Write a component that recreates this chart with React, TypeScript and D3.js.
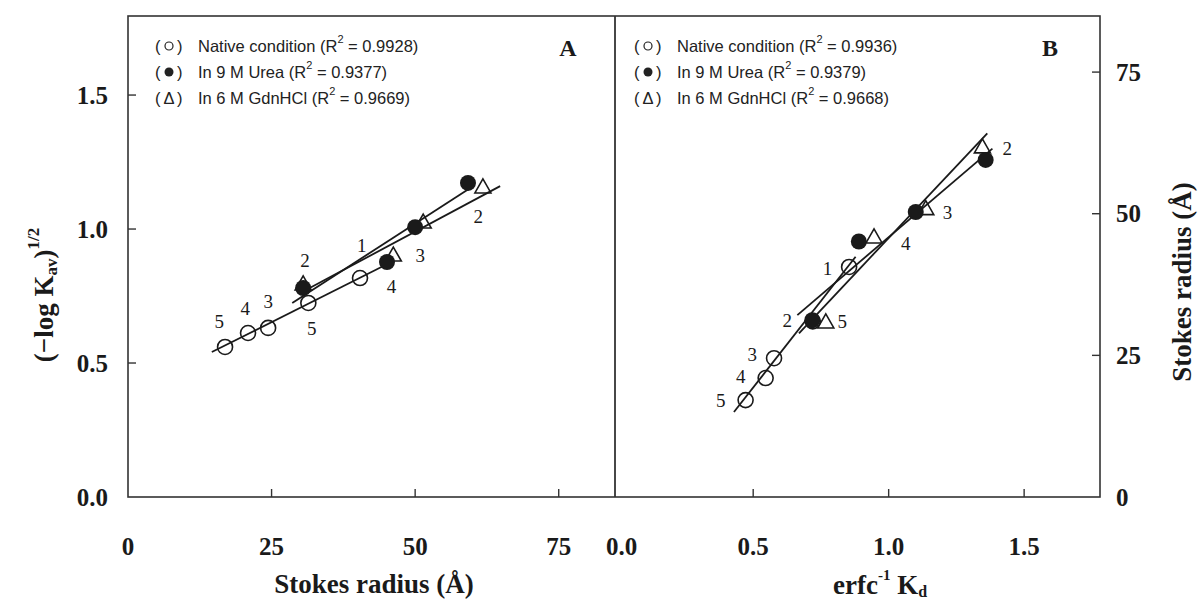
import React from 'react';
import * as d3 from 'd3';

// panel A: (-log Kav)^1/2 vs Stokes radius
const nativeA = [
  { x: 16.9, y: 0.560 }, { x: 20.9, y: 0.612 }, { x: 24.4, y: 0.631 },
  { x: 31.4, y: 0.724 }, { x: 40.4, y: 0.817 },
];
const ureaA = [
  { x: 30.5, y: 0.780 }, { x: 45.1, y: 0.877 }, { x: 50.0, y: 1.007 }, { x: 59.2, y: 1.172 },
];
const gdnA = [
  { x: 30.5, y: 0.795 }, { x: 46.2, y: 0.903 }, { x: 51.4, y: 1.026 }, { x: 61.8, y: 1.157 },
];
const fitA = [
  { x0: 14.6, y0: 0.541, x1: 44.3, y1: 0.860 },
  { x0: 28.6, y0: 0.724, x1: 59.6, y1: 1.153 },
  { x0: 30.0, y0: 0.761, x1: 64.8, y1: 1.160 },
];
const numA = [
  { t: '5', x: 15.9, y: 0.654 }, { t: '4', x: 20.4, y: 0.704 }, { t: '3', x: 24.4, y: 0.729 },
  { t: '2', x: 30.8, y: 0.884 }, { t: '1', x: 40.7, y: 0.940 }, { t: '5', x: 32.0, y: 0.629 },
  { t: '4', x: 45.9, y: 0.785 }, { t: '3', x: 50.9, y: 0.903 }, { t: '2', x: 61.0, y: 1.046 },
];
const legendA = ['0.9928', '0.9377', '0.9669'];

// panel B: Stokes radius vs erfc^-1 Kd
const nativeB = [
  { x: 0.472, y: 17.1 }, { x: 0.546, y: 21.0 }, { x: 0.577, y: 24.5 },
  { x: 0.720, y: 31.0 }, { x: 0.854, y: 40.6 },
];
const ureaB = [
  { x: 0.718, y: 31.2 }, { x: 0.890, y: 45.1 }, { x: 1.100, y: 50.3 }, { x: 1.358, y: 59.5 },
];
const gdnB = [
  { x: 0.768, y: 30.9 }, { x: 0.946, y: 45.9 }, { x: 1.137, y: 50.9 }, { x: 1.346, y: 61.8 },
];
const fitB = [
  { x0: 0.429, y0: 15.0, x1: 0.878, y1: 42.4 },
  { x0: 0.663, y0: 32.1, x1: 1.383, y1: 61.5 },
  { x0: 0.669, y0: 28.9, x1: 1.364, y1: 64.2 },
];
const numB = [
  { t: '2', x: 1.438, y: 61.5 }, { t: '3', x: 1.217, y: 50.3 }, { t: '4', x: 1.063, y: 44.8 },
  { t: '1', x: 0.774, y: 40.4 }, { t: '2', x: 0.626, y: 31.2 }, { t: '5', x: 0.829, y: 30.9 },
  { t: '3', x: 0.497, y: 25.1 }, { t: '4', x: 0.454, y: 21.2 }, { t: '5', x: 0.380, y: 17.1 },
];
const legendB = ['0.9936', '0.9379', '0.9668'];

const legendNames = ['Native condition', 'In 9 M Urea', 'In 6 M GdnHCl'];
const ticksA = [0, 25, 50, 75];
const ticksAy = [0, 0.5, 1.0, 1.5];
const ticksB = [0, 0.5, 1.0, 1.5];
const ticksBy = [0, 25, 50, 75];

const TOP = 16, BOTTOM = 497;
const serif = '"Liberation Serif", "Times New Roman", serif';
const sans = '"Liberation Sans", Arial, sans-serif';
const ink = '#1a1a1a';

const tri = (cx: number, cy: number, s = 8) =>
  `M${cx},${cy - s} L${cx + s},${cy + s * 0.75} L${cx - s},${cy + s * 0.75} Z`;

type Pt = { x: number; y: number };

function Panel({ x, y, native, urea, gdn, fits, nums }: any) {
  return (
    <g>
      {fits.map((f: any, i: number) => (
        <line key={'f' + i} x1={x(f.x0)} y1={y(f.y0)} x2={x(f.x1)} y2={y(f.y1)} stroke={ink} strokeWidth={1.8} />
      ))}
      {native.map((d: Pt, i: number) => (
        <circle key={'n' + i} cx={x(d.x)} cy={y(d.y)} r={7.5} fill="none" stroke={ink} strokeWidth={1.6} />
      ))}
      {gdn.map((d: Pt, i: number) => (
        <path key={'g' + i} d={tri(x(d.x), y(d.y))} fill="none" stroke={ink} strokeWidth={1.6} />
      ))}
      {urea.map((d: Pt, i: number) => (
        <circle key={'u' + i} cx={x(d.x)} cy={y(d.y)} r={8} fill={ink} />
      ))}
      {nums.map((d: any, i: number) => (
        <text key={'t' + i} x={x(d.x)} y={y(d.y)} textAnchor="middle" dominantBaseline="central"
          fontFamily={serif} fontSize={19} fill={ink}>{d.t}</text>
      ))}
    </g>
  );
}

function Legend({ x0, values, letter, letterX }: any) {
  return (
    <g fontFamily={sans} fontSize={16.5} fill="#222">
      {values.map((v: string, i: number) => {
        const cy = 46 + i * 26;
        return (
          <g key={i}>
            <text x={x0} y={cy} dominantBaseline="central">(</text>
            <text x={x0 + 22} y={cy} dominantBaseline="central">)</text>
            {i === 0 && <circle cx={x0 + 14} cy={cy} r={4} fill="none" stroke="#222" strokeWidth={1.2} />}
            {i === 1 && <circle cx={x0 + 14} cy={cy} r={4.5} fill="#222" />}
            {i === 2 && <text x={x0 + 14} y={cy} textAnchor="middle" dominantBaseline="central">Δ</text>}
            <text x={x0 + 43} y={cy} dominantBaseline="central">
              {legendNames[i]} (R<tspan dy={-7} fontSize={11}>2</tspan><tspan dy={7}> = {v})</tspan>
            </text>
          </g>
        );
      })}
      <text x={letterX} y={48} textAnchor="middle" dominantBaseline="central"
        fontFamily={serif} fontWeight="bold" fontSize={24} fill={ink}>{letter}</text>
    </g>
  );
}

export default function App() {
  const xA = d3.scaleLinear().domain([0, 84.8]).range([128, 615]);
  const yA = d3.scaleLinear().domain([0, 1.795]).range([BOTTOM, TOP]);
  const xB = d3.scaleLinear().domain([-0.01, 1.78]).range([615, 1100]);
  const yB = d3.scaleLinear().domain([0, 84.9]).range([BOTTOM, TOP]);
  const tickFont = { fontFamily: serif, fontWeight: 'bold' as const, fontSize: 25, fill: ink };
  const titleFont = { ...tickFont, fontSize: 27 };

  return (
    <svg width={1200} height={604} style={{ position: 'absolute', left: 0, top: 0, background: '#fff' }}>
      <rect width={1200} height={604} fill="#fff" />
      {/* frames */}
      <rect x={128} y={TOP} width={972} height={BOTTOM - TOP} fill="none" stroke="#333" strokeWidth={1.6} />
      <line x1={615} y1={TOP} x2={615} y2={BOTTOM} stroke="#333" strokeWidth={1.8} />

      {/* panel A ticks */}
      {ticksA.map(t => (
        <g key={'xa' + t}>
          {t > 0 && <line x1={xA(t)} x2={xA(t)} y1={BOTTOM} y2={BOTTOM - 8} stroke="#333" strokeWidth={1.4} />}
          <text x={xA(t)} y={546} textAnchor="middle" dominantBaseline="central" {...tickFont}>{d3.format('d')(t)}</text>
        </g>
      ))}
      {ticksAy.map(t => (
        <g key={'ya' + t}>
          {t > 0 && <line x1={128} x2={136} y1={yA(t)} y2={yA(t)} stroke="#333" strokeWidth={1.4} />}
          <text x={108} y={yA(t)} textAnchor="end" dominantBaseline="central" {...tickFont}>{d3.format('.1f')(t)}</text>
        </g>
      ))}

      {/* panel B ticks */}
      {ticksB.map(t => (
        <g key={'xb' + t}>
          {t > 0 && <line x1={xB(t)} x2={xB(t)} y1={BOTTOM} y2={BOTTOM - 8} stroke="#333" strokeWidth={1.4} />}
          <text x={t === 0 ? xB(t) + 4 : xB(t)} y={546} textAnchor="middle" dominantBaseline="central" {...tickFont}>{d3.format('.1f')(t)}</text>
        </g>
      ))}
      {ticksBy.map(t => (
        <g key={'yb' + t}>
          {t > 0 && <line x1={1100} x2={1092} y1={yB(t)} y2={yB(t)} stroke="#333" strokeWidth={1.4} />}
          <text x={1116} y={yB(t)} textAnchor="start" dominantBaseline="central" {...tickFont}>{t}</text>
        </g>
      ))}

      {/* axis titles */}
      <text x={374} y={584} textAnchor="middle" dominantBaseline="central" {...titleFont}>Stokes radius (Å)</text>
      <text x={880} y={585} textAnchor="middle" dominantBaseline="central" {...titleFont}>
        erfc<tspan dy={-10} fontSize={15}>-1</tspan><tspan dy={10}> K</tspan><tspan dy={6} fontSize={16}>d</tspan>
      </text>
      <text transform="translate(44,295) rotate(-90)" textAnchor="middle" dominantBaseline="central" {...titleFont}>
        (−log K<tspan dy={7} fontSize={17}>av</tspan><tspan dy={-7}>)</tspan><tspan dy={-11} fontSize={17}>1/2</tspan>
      </text>
      <text transform="translate(1182,282) rotate(-90)" textAnchor="middle" dominantBaseline="central" {...titleFont}>Stokes radius (Å)</text>

      <Legend x0={155} values={legendA} letter="A" letterX={568} />
      <Legend x0={634} values={legendB} letter="B" letterX={1050} />

      <Panel x={xA} y={yA} native={nativeA} urea={ureaA} gdn={gdnA} fits={fitA} nums={numA} />
      <Panel x={xB} y={yB} native={nativeB} urea={ureaB} gdn={gdnB} fits={fitB} nums={numB} />
    </svg>
  );
}
